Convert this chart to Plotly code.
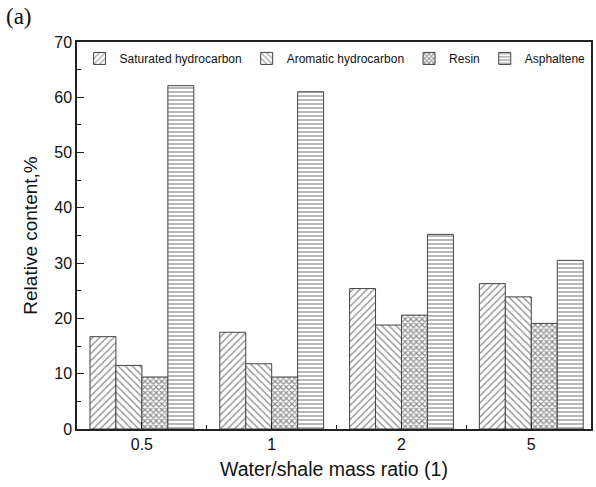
import plotly.graph_objects as go

categories = ["0.5", "1", "2", "5"]
series_names = ["Saturated hydrocarbon", "Aromatic hydrocarbon", "Resin", "Asphaltene"]
saturated = [16.7, 17.5, 25.4, 26.3]
aromatic = [11.5, 11.8, 18.8, 23.9]
resin = [9.4, 9.4, 20.6, 19.1]
asphaltene = [62.1, 61.0, 35.2, 30.5]
y_ticks = [0, 10, 20, 30, 40, 50, 60, 70]

values = [saturated, aromatic, resin, asphaltene]
shapes = ["/", "\\", "x", "-"]
sizes = [5, 5, 4, 4]
solids = [0.28, 0.28, 0.55, 0.32]

fig = go.Figure()
xpos = list(range(len(categories)))
for name, vals, shp, sz, so in zip(series_names, values, shapes, sizes, solids):
    fig.add_trace(go.Bar(
        x=xpos, y=vals, name=name,
        marker=dict(color="white",
                    line=dict(color="#444444", width=1),
                    pattern=dict(shape=shp, fgcolor="#222222", bgcolor="white",
                                 size=sz, solidity=so)),
    ))

fig.update_layout(
    width=596, height=487,
    margin=dict(l=77, r=5, t=42, b=58, autoexpand=False),
    paper_bgcolor="white", plot_bgcolor="white",
    barmode="group", bargap=0.2, bargroupgap=0,
    font=dict(family="Liberation Sans, Arial, sans-serif", color="#111111"),
    showlegend=True,
    legend=dict(orientation="h", x=0.005, y=0.995,
                xanchor="left", yanchor="top",
                font=dict(size=12, color="#111111"), bgcolor="rgba(0,0,0,0)",
                itemwidth=30, tracegroupgap=0),
    annotations=[dict(text="(a)", x=0.0, y=1.0, xref="paper", yref="paper",
                      xshift=-73, yshift=40, xanchor="left", yanchor="top",
                      showarrow=False,
                      font=dict(family="Liberation Serif, Times New Roman, serif",
                                size=23, color="#111111"))],
)
fig.update_xaxes(
    range=[-0.5, 3.46], tickvals=xpos, ticktext=categories,
    ticks="inside", ticklen=7, tickcolor="#222", showline=True, linecolor="#222",
    linewidth=1.5, mirror=True, showgrid=False, zeroline=False,
    tickfont=dict(size=16, color="#111111"),
    minor=dict(tick0=0.5, dtick=1, ticks="inside", ticklen=4, tickcolor="#222"),
    title=dict(text="Water/shale mass ratio (1)", font=dict(size=19.5, color="#111111"), standoff=10),
)
fig.update_yaxes(
    range=[0, 70], tickvals=y_ticks,
    ticks="inside", ticklen=7, tickcolor="#222", showline=True, linecolor="#222",
    linewidth=1.5, mirror=True, showgrid=False, zeroline=False,
    tickfont=dict(size=16, color="#111111"),
    minor=dict(dtick=5, ticks="inside", ticklen=4, tickcolor="#222"),
    title=dict(text="Relative content,%", font=dict(size=19, color="#111111"), standoff=12),
)
fig.write_html("out.html", config={"displayModeBar": False},
               post_script="document.body.style.margin='0';")
